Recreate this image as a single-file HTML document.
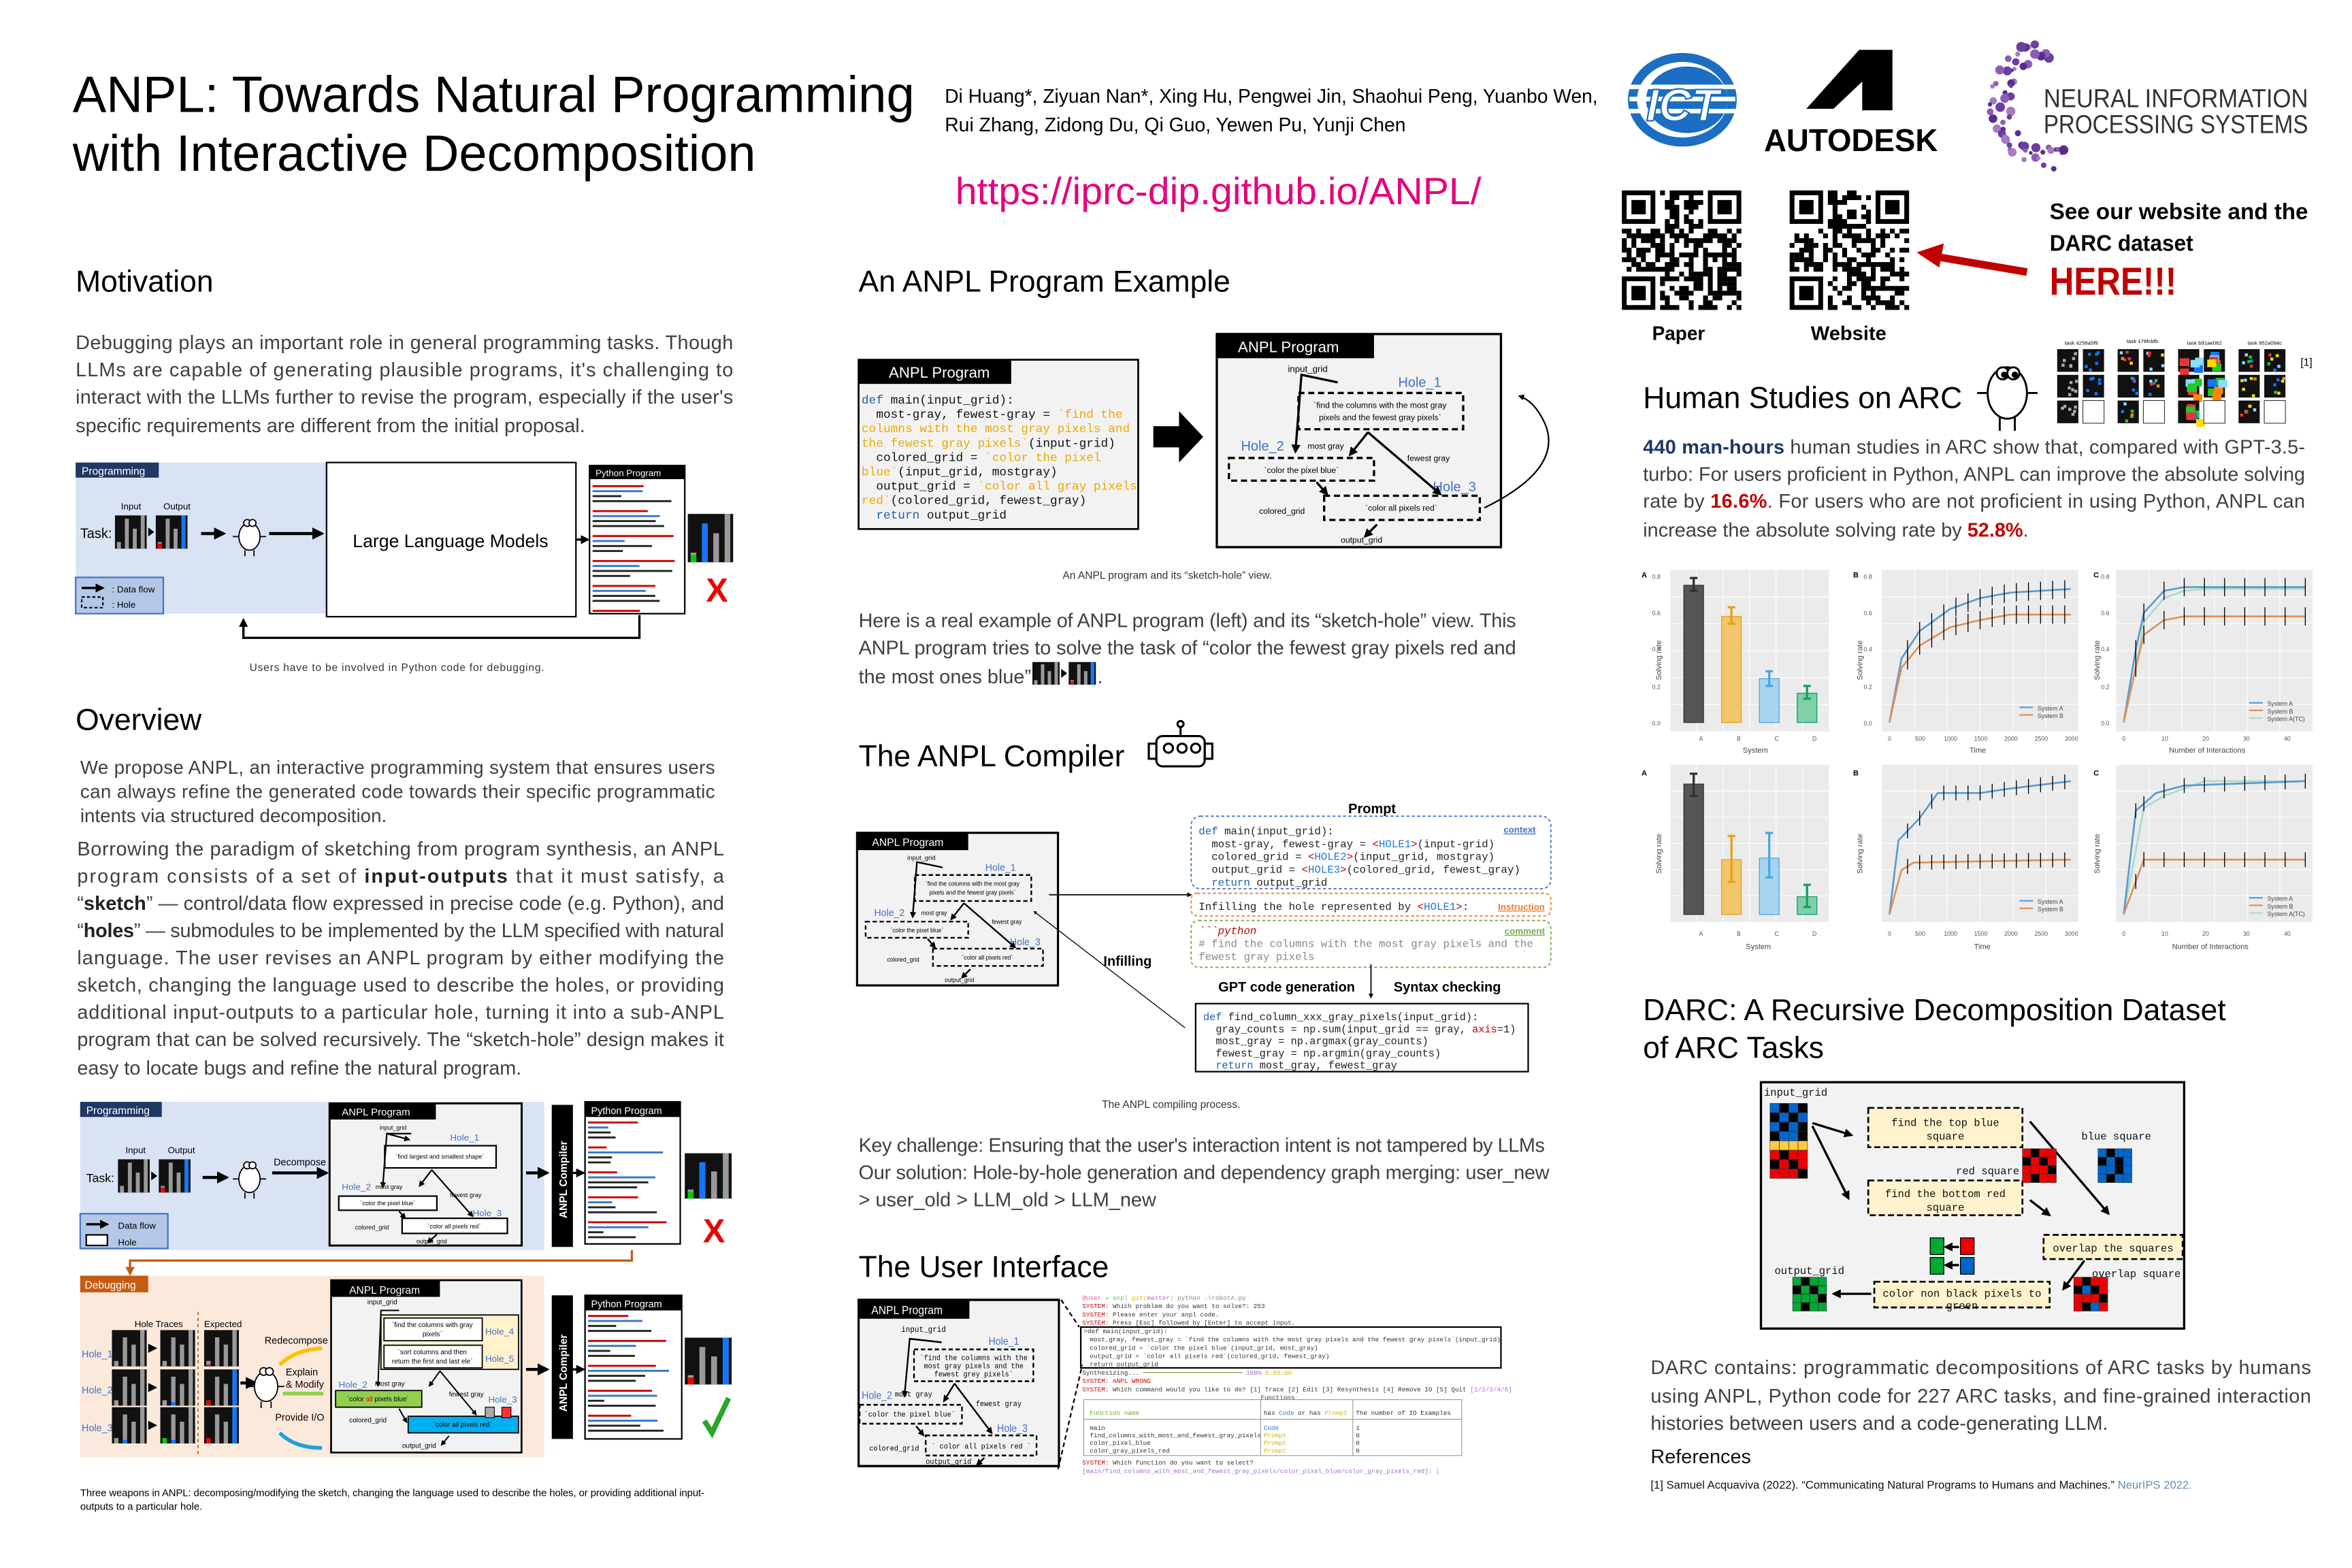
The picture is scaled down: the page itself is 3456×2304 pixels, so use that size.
<!DOCTYPE html>
<html><head><meta charset="utf-8">
<style>
html,body{margin:0;padding:0;background:#fff;}
svg{display:block}
.s{font-family:"Liberation Sans",Arial,sans-serif}
.m{font-family:"Liberation Mono","DejaVu Sans Mono",monospace}
.b{fill:#404040}
.h{fill:#000;font-size:20px}
.bl{fill:#4472c4}
</style></head><body>
<svg id="S" xmlns="http://www.w3.org/2000/svg" width="3456" height="2304" viewBox="0 0 1556 1037.4" class="s">
<defs>
<marker id="ah" viewBox="0 0 10 10" refX="8" refY="5" markerWidth="4" markerHeight="4" orient="auto-start-reverse"><path d="M0,0 L10,5 L0,10 z" fill="#000"/></marker>
<marker id="aho" viewBox="0 0 10 10" refX="8" refY="5" markerWidth="4" markerHeight="4" orient="auto"><path d="M0,0 L10,5 L0,10 z" fill="#c55a11"/></marker>
</defs>
<rect width="1556" height="1037.4" fill="#fff"/>

<!-- Title -->
<text x="48" y="74" font-size="34" textLength="557" lengthAdjust="spacingAndGlyphs">ANPL: Towards Natural Programming</text>
<text x="48" y="113" font-size="34" textLength="452" lengthAdjust="spacingAndGlyphs">with Interactive Decomposition</text>
<text x="625" y="68" font-size="13" textLength="432" lengthAdjust="spacingAndGlyphs">Di Huang*, Ziyuan Nan*, Xing Hu, Pengwei Jin, Shaohui Peng, Yuanbo Wen,</text>
<text x="625" y="87" font-size="13" textLength="305" lengthAdjust="spacingAndGlyphs">Rui Zhang, Zidong Du, Qi Guo, Yewen Pu, Yunji Chen</text>
<text x="632" y="135" font-size="25" fill="#e5007d" textLength="348" lengthAdjust="spacingAndGlyphs">https://iprc-dip.github.io/ANPL/</text>

<!-- logos -->
<g>
<ellipse cx="1113" cy="66" rx="36" ry="31" fill="#1b6ec2"/>
<ellipse cx="1113" cy="66" rx="30" ry="25" fill="#fff"/>
<ellipse cx="1116" cy="66" rx="27" ry="22" fill="#1b6ec2"/>
<rect x="1078" y="56" width="70" height="3" fill="#fff"/><rect x="1078" y="64" width="70" height="3" fill="#fff"/><rect x="1078" y="72" width="70" height="3" fill="#fff"/>
<text x="1089" y="80" font-size="30" font-weight="bold" font-style="italic" fill="#fff" stroke="#1b6ec2" stroke-width="1">ICT</text>
</g>
<polygon points="1195,72 1230,33 1252,33 1252,73 1232,73 1232,54 1213,72" fill="#000"/>
<text x="1167" y="100" font-size="21" font-weight="bold" textLength="115" lengthAdjust="spacingAndGlyphs">AUTODESK</text>
<g id="neur"></g>
<text x="1352" y="71" font-size="17" fill="#333" textLength="175" lengthAdjust="spacingAndGlyphs">NEURAL INFORMATION</text>
<text x="1352" y="88" font-size="17" fill="#333" textLength="175" lengthAdjust="spacingAndGlyphs">PROCESSING SYSTEMS</text>

<g id="qr1"></g><g id="qr2"></g>
<text x="1093" y="225" font-size="13" font-weight="bold" textLength="35" lengthAdjust="spacingAndGlyphs">Paper</text>
<text x="1198" y="225" font-size="13" font-weight="bold" textLength="50" lengthAdjust="spacingAndGlyphs">Website</text>
<line x1="1341" y1="180" x2="1282" y2="170" stroke="#c00000" stroke-width="5"/>
<polygon points="1268,167 1286,161 1283,177" fill="#c00000"/>
<text x="1356" y="145" font-size="15" font-weight="bold" textLength="171" lengthAdjust="spacingAndGlyphs">See our website and the</text>
<text x="1356" y="166" font-size="15" font-weight="bold" textLength="95" lengthAdjust="spacingAndGlyphs">DARC dataset</text>
<text x="1356" y="195" font-size="26" font-weight="bold" fill="#c00000" textLength="84" lengthAdjust="spacingAndGlyphs">HERE!!!</text>

<!-- Motivation -->
<text x="50" y="193" class="h">Motivation</text>
<g class="b" font-size="13">
<text x="50" y="231" textLength="435" lengthAdjust="spacing">Debugging plays an important role in general programming tasks. Though</text>
<text x="50" y="249" textLength="435" lengthAdjust="spacing">LLMs are capable of generating plausible programs, it's challenging to</text>
<text x="50" y="267" textLength="435" lengthAdjust="spacing">interact with the LLMs further to revise the program, especially if the user's</text>
<text x="50" y="286">specific requirements are different from the initial proposal.</text>
</g>
<!-- motivation diagram -->
<rect x="50" y="306" width="166" height="100" fill="#dae3f3"/>
<rect x="50" y="306" width="55" height="10" fill="#1f3864"/>
<text x="54" y="314" font-size="7" fill="#fff">Programming</text>
<text x="80" y="337" font-size="6">Input</text><text x="108" y="337" font-size="6">Output</text>
<text x="53" y="356" font-size="9">Task:</text>
<g id="mt1"></g>
<line x1="133" y1="353" x2="148" y2="353" stroke="#000" stroke-width="2" marker-end="url(#ah)"/>
<g id="duck1" transform="translate(165,352)"></g>
<line x1="178" y1="353" x2="213" y2="353" stroke="#000" stroke-width="2" marker-end="url(#ah)"/>
<rect x="50" y="382" width="58" height="24" fill="#b4c7e7" stroke="#4472c4" stroke-width="1"/>
<line x1="54" y1="389" x2="68" y2="389" stroke="#000" stroke-width="1.5" marker-end="url(#ah)"/><text x="74" y="392" font-size="6">: Data flow</text>
<rect x="54" y="395" width="14" height="7" fill="none" stroke="#000" stroke-dasharray="2,1.5"/><text x="74" y="402" font-size="6">: Hole</text>
<rect x="216" y="306" width="165" height="102" fill="#fff" stroke="#000" stroke-width="1"/>
<text x="298" y="362" font-size="12" text-anchor="middle">Large Language Models</text>
<line x1="381" y1="357" x2="389" y2="357" stroke="#000" stroke-width="1.5" marker-end="url(#ah)"/>
<g transform="translate(390,308)" id="py1">
<rect width="63" height="98" fill="#fff" stroke="#000"/><rect width="63" height="9" fill="#000"/>
<text x="4" y="7" font-size="6" fill="#fff">Python Program</text>
</g>
<g id="mo1"></g>
<text x="467" y="398" font-size="22" fill="#e00" font-weight="bold">X</text>
<polyline points="423,407 423,422 161,422 161,410" fill="none" stroke="#000" stroke-width="1.5" marker-end="url(#ah)"/>
<text x="165" y="444" font-size="7" fill="#333" textLength="195" lengthAdjust="spacing">Users have to be involved in Python code for debugging.</text>

<!-- Overview -->
<text x="50" y="483" class="h">Overview</text>
<g class="b" font-size="12.5">
<text x="53" y="512" textLength="420" lengthAdjust="spacing">We propose ANPL, an interactive programming system that ensures users</text>
<text x="53" y="528" textLength="420" lengthAdjust="spacing">can always refine the generated code towards their specific programmatic</text>
<text x="53" y="544">intents via structured decomposition.</text>
</g>
<g class="b" font-size="13">
<text x="51" y="566" textLength="428" lengthAdjust="spacing">Borrowing the paradigm of sketching from program synthesis, an ANPL</text>
<text x="51" y="584" textLength="428" lengthAdjust="spacing">program consists of a set of <tspan font-weight="bold" fill="#222">input-outputs</tspan> that it must satisfy, a</text>
<text x="51" y="602" textLength="428" lengthAdjust="spacing">“<tspan font-weight="bold" fill="#222">sketch</tspan>” — control/data flow expressed in precise code (e.g. Python), and</text>
<text x="51" y="620" textLength="428" lengthAdjust="spacing">“<tspan font-weight="bold" fill="#222">holes</tspan>” — submodules to be implemented by the LLM specified with natural</text>
<text x="51" y="638" textLength="428" lengthAdjust="spacing">language. The user revises an ANPL program by either modifying the</text>
<text x="51" y="656" textLength="428" lengthAdjust="spacing">sketch, changing the language used to describe the holes, or providing</text>
<text x="51" y="674" textLength="428" lengthAdjust="spacing">additional input-outputs to a particular hole, turning it into a sub-ANPL</text>
<text x="51" y="692" textLength="428" lengthAdjust="spacing">program that can be solved recursively. The “sketch-hole” design makes it</text>
<text x="51" y="711">easy to locate bugs and refine the natural program.</text>
</g>

<!-- overview diagram: programming -->
<rect x="53" y="729" width="307" height="98" fill="#dae3f3"/>
<rect x="53" y="729" width="54" height="10" fill="#1f3864"/><text x="57" y="737" font-size="7" fill="#fff">Programming</text>
<text x="83" y="763" font-size="6">Input</text><text x="111" y="763" font-size="6">Output</text>
<text x="57" y="782" font-size="8">Task:</text>
<g id="mt2"></g>
<line x1="134" y1="779" x2="150" y2="779" stroke="#000" stroke-width="2" marker-end="url(#ah)"/>
<g id="duck2" transform="translate(165,777)"></g>
<text x="181" y="771" font-size="6.5">Decompose</text>
<line x1="180" y1="776" x2="216" y2="776" stroke="#000" stroke-width="2" marker-end="url(#ah)"/>
<rect x="53" y="803" width="58" height="23" fill="#b4c7e7" stroke="#4472c4"/>
<line x1="57" y1="810" x2="71" y2="810" stroke="#000" stroke-width="1.5" marker-end="url(#ah)"/><text x="78" y="813" font-size="6">Data flow</text>
<rect x="57" y="817" width="14" height="7" fill="#fff" stroke="#000"/><text x="78" y="824" font-size="6">Hole</text>

<g transform="translate(218,730) scale(0.676,0.667)">
<rect width="188" height="141" fill="#f2f2f2" stroke="#000" stroke-width="2"/>
<rect width="104" height="16" fill="#000"/><text x="12" y="12" font-size="10" fill="#fff">ANPL Program</text>
<text x="49" y="26" font-size="6">input_grid</text>
<text x="118" y="37" font-size="9" class="bl">Hole_1</text>
<rect x="54" y="42" width="109" height="22" fill="#fff" stroke="#000" stroke-width="1.5"/>
<text x="108" y="55" font-size="6" text-anchor="middle">`find largest and smallest shape`</text>
<text x="12" y="86" font-size="9" class="bl">Hole_2</text><text x="45" y="85" font-size="6">most gray</text>
<text x="118" y="93" font-size="6">fewest gray</text>
<rect x="9" y="92" width="96" height="14" fill="#fff" stroke="#000" stroke-width="1.5"/><text x="57" y="101" font-size="6" text-anchor="middle">`color the pixel blue`</text>
<text x="140" y="112" font-size="9" class="bl">Hole_3</text>
<rect x="71" y="114" width="103" height="15" fill="#fff" stroke="#000" stroke-width="1.5"/><text x="122" y="124" font-size="6" text-anchor="middle">`color all pixels red`</text>
<text x="25" y="125" font-size="6">colored_grid</text><text x="85" y="139" font-size="6">output_grid</text>
<polyline points="80,30 56,30 52,83" fill="none" stroke="#000" stroke-width="1.5" marker-end="url(#ah)"/>
<line x1="56" y1="30" x2="78" y2="36" stroke="#000" stroke-width="1.5" marker-end="url(#ah)"/>
<line x1="100" y1="66" x2="88" y2="82" stroke="#000" stroke-width="1.5" marker-end="url(#ah)"/>
<line x1="100" y1="66" x2="140" y2="112" stroke="#000" stroke-width="1.5" marker-end="url(#ah)"/>
<line x1="68" y1="107" x2="74" y2="114" stroke="#000" stroke-width="1.5" marker-end="url(#ah)"/>
<line x1="105" y1="130" x2="96" y2="138" stroke="#000" stroke-width="1.5" marker-end="url(#ah)"/>
</g>
<line x1="348" y1="776" x2="362" y2="776" stroke="#000" stroke-width="2" marker-end="url(#ah)"/>
<rect x="365" y="731" width="14" height="94" fill="#000"/>
<text transform="translate(375,806) rotate(-90)" font-size="7" fill="#fff" font-weight="bold">ANPL Compiler</text>
<line x1="379" y1="776" x2="386" y2="776" stroke="#000" stroke-width="1.5" marker-end="url(#ah)"/>
<g transform="translate(387,729)" id="py2">
<rect width="63" height="94" fill="#fff" stroke="#000"/><rect width="63" height="10" fill="#000"/>
<text x="4" y="8" font-size="6.5" fill="#fff">Python Program</text>
</g>
<g id="mo2"></g>
<text x="465" y="822" font-size="22" fill="#e00" font-weight="bold">X</text>
<polyline points="418,827 418,834 86,834 86,843" fill="none" stroke="#c55a11" stroke-width="1.5" marker-end="url(#aho)"/>

<!-- debugging -->
<rect x="53" y="844" width="307" height="120" fill="#fbe9dc"/>
<rect x="53" y="844" width="45" height="11" fill="#c55a11"/><text x="56" y="852.5" font-size="7" fill="#fff">Debugging</text>
<text x="89" y="878" font-size="6">Hole Traces</text><text x="135" y="878" font-size="6">Expected</text>
<line x1="131" y1="868" x2="131" y2="962" stroke="#c55a11" stroke-dasharray="2,2" stroke-width="0.8"/>
<text x="54" y="898" font-size="6.5" class="bl">Hole_1</text><text x="54" y="922" font-size="6.5" class="bl">Hole_2</text><text x="54" y="947" font-size="6.5" class="bl">Hole_3</text>
<g id="dg"></g>
<g id="duck3" transform="translate(176,914)"></g>
<path d="M185,903 Q195,893 213,892" fill="none" stroke="#ffc000" stroke-width="2.5"/>
<line x1="187" y1="922" x2="214" y2="922" stroke="#92d050" stroke-width="2.5"/>
<path d="M185,948 Q195,958 213,958" fill="none" stroke="#1ca0e0" stroke-width="2.5"/>
<text x="175" y="889" font-size="6.5">Redecompose</text>
<text x="189" y="910" font-size="6.5">Explain</text><text x="189" y="918" font-size="6.5">&amp; Modify</text>
<text x="182" y="940" font-size="6.5">Provide I/O</text>
<g transform="translate(219,847)">
<rect width="126" height="114" fill="#f2f2f2" stroke="#000" stroke-width="1.2"/>
<rect width="72" height="11" fill="#000"/><text x="12" y="9" font-size="7" fill="#fff">ANPL Program</text>
<text x="24" y="16" font-size="4.5">input_grid</text>
<text x="66" y="27" font-size="6" class="bl">Hole_1</text>
<rect x="33" y="23" width="91" height="36" fill="#fff2cc" stroke="#000" stroke-width="0.8"/>
<rect x="35" y="25" width="65" height="15" fill="#fff" stroke="#000" stroke-width="0.8"/><text x="67" y="31" font-size="4.5" text-anchor="middle">`find the columns with gray</text><text x="67" y="37" font-size="4.5" text-anchor="middle">pixels`</text>
<rect x="35" y="43" width="65" height="15" fill="#fff" stroke="#000" stroke-width="0.8"/><text x="67" y="49" font-size="4.5" text-anchor="middle">`sort columns and then</text><text x="67" y="55" font-size="4.5" text-anchor="middle">return the first and last ele`</text>
<text x="102" y="36" font-size="6" class="bl">Hole_4</text><text x="102" y="54" font-size="6" class="bl">Hole_5</text>
<text x="5" y="71" font-size="6" class="bl">Hole_2</text><text x="29" y="70" font-size="4.5">most gray</text>
<text x="78" y="77" font-size="4.5">fewest gray</text><text x="104" y="81" font-size="6" class="bl">Hole_3</text>
<rect x="3" y="73" width="57" height="11" fill="#92d050" stroke="#000" stroke-width="0.8"/><text x="31" y="80" font-size="4.5" text-anchor="middle">`color <tspan fill="#e00">all</tspan> pixels blue`</text>
<rect x="51" y="90" width="73" height="11" fill="#00b0f0" stroke="#000" stroke-width="0.8"/><text x="87" y="97" font-size="4.5" text-anchor="middle">`color all pixels red`</text>
<rect x="102" y="84" width="6" height="7" fill="#aaa" stroke="#000" stroke-width="0.5"/><rect x="113" y="84" width="6" height="7" fill="#f33" stroke="#000" stroke-width="0.5"/>
<text x="12" y="94" font-size="4.5">colored_grid</text><text x="47" y="111" font-size="4.5">output_grid</text>
<polyline points="45,20 33,20 31,70" fill="none" stroke="#000" stroke-width="0.9" marker-end="url(#ah)"/>
<line x1="72" y1="60" x2="65" y2="70" stroke="#000" stroke-width="0.9" marker-end="url(#ah)"/>
<line x1="72" y1="60" x2="96" y2="89" stroke="#000" stroke-width="0.9" marker-end="url(#ah)"/>
<line x1="45" y1="85" x2="50" y2="94" stroke="#000" stroke-width="0.9" marker-end="url(#ah)"/>
<line x1="78" y1="103" x2="73" y2="109" stroke="#000" stroke-width="0.9" marker-end="url(#ah)"/>
</g>
<line x1="348" y1="906" x2="362" y2="906" stroke="#000" stroke-width="2" marker-end="url(#ah)"/>
<rect x="365" y="857" width="14" height="95" fill="#000"/>
<text transform="translate(375,934) rotate(-90)" font-size="7" fill="#fff" font-weight="bold">ANPL Compiler</text>
<line x1="379" y1="906" x2="386" y2="906" stroke="#000" stroke-width="1.5" marker-end="url(#ah)"/>
<g transform="translate(387,857)" id="py3">
<rect width="64" height="95" fill="#fff" stroke="#000"/><rect width="64" height="10" fill="#000"/>
<text x="4" y="8" font-size="6.5" fill="#fff">Python Program</text>
</g>
<g id="mo3"></g>
<path d="M466,940 L471,948 L482,925" fill="none" stroke="#2aa52a" stroke-width="3.5"/>
<text x="53" y="990" font-size="6.7" textLength="413" lengthAdjust="spacing">Three weapons in ANPL: decomposing/modifying the sketch, changing the language used to describe the holes, or providing additional input-</text>
<text x="53" y="999" font-size="6.7">outputs to a particular hole.</text>

<!-- Program example -->
<text x="568" y="193" class="h">An ANPL Program Example</text>
<rect x="568" y="238" width="185" height="112" fill="#f2f2f2" stroke="#000" stroke-width="1.2"/>
<rect x="568" y="238" width="101" height="16" fill="#000"/>
<text x="588" y="250" font-size="10" fill="#fff">ANPL Program</text>
<g class="m" font-size="8" fill="#111">
<text x="570" y="267"><tspan fill="#1f5fb0">def</tspan> main(input_grid):</text>
<text x="570" y="276.5">&#160;&#160;most-gray, fewest-gray = <tspan fill="#f0a800">`find the</tspan></text>
<text x="570" y="286" fill="#f0a800">columns with the most gray pixels and</text>
<text x="570" y="295.5"><tspan fill="#f0a800">the fewest gray pixels`</tspan>(input-grid)</text>
<text x="570" y="305">&#160;&#160;colored_grid = <tspan fill="#f0a800">`color the pixel</tspan></text>
<text x="570" y="314.5"><tspan fill="#f0a800">blue`</tspan>(input_grid, mostgray)</text>
<text x="570" y="324">&#160;&#160;output_grid = <tspan fill="#f0a800">`color all gray pixels</tspan></text>
<text x="570" y="333.5"><tspan fill="#f0a800">red`</tspan>(colored_grid, fewest_gray)</text>
<text x="570" y="343">&#160;&#160;<tspan fill="#1f5fb0">return</tspan> output_grid</text>
</g>
<polygon points="763,282 780,282 780,272 796,289 780,306 780,296 763,296" fill="#000"/>
<g transform="translate(805,221)">
<rect width="188" height="141" fill="#f2f2f2" stroke="#000" stroke-width="1.5"/>
<rect width="104" height="16" fill="#000"/><text x="14" y="12" font-size="10" fill="#fff">ANPL Program</text>
<text x="47" y="25" font-size="6">input_grid</text>
<text x="120" y="35" font-size="9" class="bl">Hole_1</text>
<rect x="54" y="39" width="109" height="24" fill="none" stroke="#000" stroke-width="1.5" stroke-dasharray="4,2.5"/>
<text x="108" y="49" font-size="5.5" text-anchor="middle">`find the columns with the most gray</text>
<text x="108" y="57" font-size="5.5" text-anchor="middle">pixels and the fewest gray pixels`</text>
<text x="16" y="77" font-size="9" class="bl">Hole_2</text><text x="60" y="76" font-size="5.5">most gray</text>
<text x="126" y="84" font-size="5.5">fewest gray</text>
<rect x="8" y="82" width="96" height="15" fill="none" stroke="#000" stroke-width="1.5" stroke-dasharray="4,2.5"/>
<text x="56" y="92" font-size="5.5" text-anchor="middle">`color the pixel blue`</text>
<text x="143" y="104" font-size="9" class="bl">Hole_3</text>
<rect x="71" y="107" width="103" height="16" fill="none" stroke="#000" stroke-width="1.5" stroke-dasharray="4,2.5"/>
<text x="122" y="117" font-size="5.5" text-anchor="middle">`color all pixels red`</text>
<text x="28" y="119" font-size="5.5">colored_grid</text><text x="82" y="138" font-size="5.5">output_grid</text>
<polyline points="80,32 56,27 52,78" fill="none" stroke="#000" stroke-width="1.5" marker-end="url(#ah)"/>
<line x1="100" y1="65" x2="88" y2="80" stroke="#000" stroke-width="1.5" marker-end="url(#ah)"/>
<line x1="100" y1="65" x2="148" y2="106" stroke="#000" stroke-width="1.5" marker-end="url(#ah)"/>
<line x1="66" y1="98" x2="73" y2="106" stroke="#000" stroke-width="1.5" marker-end="url(#ah)"/>
<line x1="106" y1="126" x2="98" y2="134" stroke="#000" stroke-width="1.5" marker-end="url(#ah)"/>
</g>
<path d="M982,336 Q1035,310 1022,280 Q1015,265 1005,262" fill="none" stroke="#000" stroke-width="1" marker-end="url(#ah)"/>
<text x="703" y="383" font-size="7" fill="#333">An ANPL program and its “sketch-hole” view.</text>
<g class="b" font-size="13">
<text x="568" y="415" textLength="435" lengthAdjust="spacing">Here is a real example of ANPL program (left) and its “sketch-hole” view. This</text>
<text x="568" y="433" textLength="435" lengthAdjust="spacing">ANPL program tries to solve the task of “color the fewest gray pixels red and</text>
<text x="568" y="452">the most ones blue” </text>
<text x="726" y="452">.</text>
</g>
<g id="mt3"></g>

<!-- Compiler -->
<text x="568" y="507" class="h">The ANPL Compiler</text>
<g fill="none" stroke="#000" stroke-width="1.4">
<rect x="765" y="487" width="32" height="20" rx="4"/>
<rect x="760" y="492" width="5" height="10"/><rect x="797" y="492" width="5" height="10"/>
<circle cx="773" cy="495" r="3"/><circle cx="782" cy="495" r="3"/><circle cx="791" cy="495" r="3"/>
<line x1="781" y1="487" x2="781" y2="481"/><circle cx="781" cy="479" r="2"/>
</g>
<g transform="translate(567,551) scale(0.707,0.716)">
<rect width="188" height="141" fill="#f2f2f2" stroke="#000" stroke-width="2"/>
<rect width="104" height="16" fill="#000"/><text x="14" y="12" font-size="10" fill="#fff">ANPL Program</text>
<text x="47" y="25" font-size="6">input_grid</text>
<text x="120" y="35" font-size="9" class="bl">Hole_1</text>
<rect x="54" y="39" width="109" height="24" fill="none" stroke="#000" stroke-width="1.5" stroke-dasharray="4,2.5"/>
<text x="108" y="49" font-size="5.5" text-anchor="middle">`find the columns with the most gray</text>
<text x="108" y="57" font-size="5.5" text-anchor="middle">pixels and the fewest gray pixels`</text>
<text x="16" y="77" font-size="9" class="bl">Hole_2</text><text x="60" y="76" font-size="5.5">most gray</text>
<text x="126" y="84" font-size="5.5">fewest gray</text>
<rect x="8" y="82" width="96" height="15" fill="none" stroke="#000" stroke-width="1.5" stroke-dasharray="4,2.5"/>
<text x="56" y="92" font-size="5.5" text-anchor="middle">`color the pixel blue`</text>
<text x="143" y="104" font-size="9" class="bl">Hole_3</text>
<rect x="71" y="107" width="103" height="16" fill="none" stroke="#000" stroke-width="1.5" stroke-dasharray="4,2.5"/>
<text x="122" y="117" font-size="5.5" text-anchor="middle">`color all pixels red`</text>
<text x="28" y="119" font-size="5.5">colored_grid</text><text x="82" y="138" font-size="5.5">output_grid</text>
<polyline points="80,32 56,27 52,78" fill="none" stroke="#000" stroke-width="1.5" marker-end="url(#ah)"/>
<line x1="100" y1="65" x2="88" y2="80" stroke="#000" stroke-width="1.5" marker-end="url(#ah)"/>
<line x1="100" y1="65" x2="148" y2="106" stroke="#000" stroke-width="1.5" marker-end="url(#ah)"/>
<line x1="66" y1="98" x2="73" y2="106" stroke="#000" stroke-width="1.5" marker-end="url(#ah)"/>
<line x1="106" y1="126" x2="98" y2="134" stroke="#000" stroke-width="1.5" marker-end="url(#ah)"/>
</g>
<line x1="694" y1="592" x2="788" y2="592" stroke="#000" stroke-width="0.8" marker-end="url(#ah)"/>
<line x1="784" y1="680" x2="684" y2="603" stroke="#000" stroke-width="0.6" marker-end="url(#ah)"/>
<text x="730" y="639" font-size="9" font-weight="bold">Infilling</text>
<text x="892" y="538" font-size="9" font-weight="bold">Prompt</text>
<rect x="788" y="540" width="238" height="48" rx="6" fill="none" stroke="#4472c4" stroke-width="0.8" stroke-dasharray="2,1.5"/>
<rect x="788" y="591" width="238" height="15" rx="4" fill="none" stroke="#ed7d31" stroke-width="0.8" stroke-dasharray="2,1.5"/>
<rect x="788" y="609" width="238" height="31" rx="5" fill="none" stroke="#70ad47" stroke-width="0.8" stroke-dasharray="2,1.5"/>
<text x="1016" y="551" font-size="6" font-weight="bold" fill="#4472c4" text-anchor="end" text-decoration="underline">context</text>
<text x="1022" y="602" font-size="6" font-weight="bold" fill="#ed7d31" text-anchor="end" text-decoration="underline">Instruction</text>
<text x="1022" y="618" font-size="6" font-weight="bold" fill="#70ad47" text-anchor="end" text-decoration="underline">comment</text>
<g class="m" font-size="7.1" fill="#222">
<text x="793" y="552"><tspan fill="#1f5fb0">def</tspan> main(input_grid):</text>
<text x="793" y="560.5">&#160;&#160;most-gray, fewest-gray = <tspan fill="#c00000">&lt;</tspan><tspan fill="#1f7ad0">HOLE1</tspan><tspan fill="#c00000">&gt;</tspan>(input-grid)</text>
<text x="793" y="569">&#160;&#160;colored_grid = <tspan fill="#c00000">&lt;</tspan><tspan fill="#1f7ad0">HOLE2</tspan><tspan fill="#c00000">&gt;</tspan>(input_grid, mostgray)</text>
<text x="793" y="577.5">&#160;&#160;output_grid = <tspan fill="#c00000">&lt;</tspan><tspan fill="#1f7ad0">HOLE3</tspan><tspan fill="#c00000">&gt;</tspan>(colored_grid, fewest_gray)</text>
<text x="793" y="586">&#160;&#160;<tspan fill="#1f5fb0">return</tspan> output_grid</text>
<text x="793" y="602">Infilling the hole represented by <tspan fill="#c00000">&lt;</tspan><tspan fill="#1f7ad0">HOLE1</tspan><tspan fill="#c00000">&gt;</tspan>:</text>
<text x="793" y="618" fill="#c00000" font-style="italic">&#96;&#96;&#96;python</text>
<text x="793" y="626.5" fill="#888"># find the columns with the most gray pixels and the</text>
<text x="793" y="635" fill="#888">fewest gray pixels</text>
</g>
<line x1="907" y1="638" x2="907" y2="660" stroke="#000" stroke-width="0.8" marker-end="url(#ah)"/>
<text x="806" y="656" font-size="9" font-weight="bold">GPT code generation</text>
<text x="922" y="656" font-size="9" font-weight="bold">Syntax checking</text>
<rect x="791" y="664" width="220" height="45" fill="#fff" stroke="#000" stroke-width="1"/>
<g class="m" font-size="6.9" fill="#222">
<text x="796" y="675"><tspan fill="#1f5fb0">def</tspan> find_column_xxx_gray_pixels(input_grid):</text>
<text x="796" y="683">&#160;&#160;gray_counts = np.sum(input_grid == gray, <tspan fill="#c00000">axis</tspan>=1)</text>
<text x="796" y="691">&#160;&#160;most_gray = np.argmax(gray_counts)</text>
<text x="796" y="699">&#160;&#160;fewest_gray = np.argmin(gray_counts)</text>
<text x="796" y="707">&#160;&#160;<tspan fill="#1f5fb0">return</tspan> most_gray, fewest_gray</text>
</g>
<text x="729" y="733" font-size="7" fill="#333">The ANPL compiling process.</text>
<g class="b" font-size="13">
<text x="568" y="762" textLength="454" lengthAdjust="spacing">Key challenge: Ensuring that the user's interaction intent is not tampered by LLMs</text>
<text x="568" y="780" textLength="457" lengthAdjust="spacing">Our solution: Hole-by-hole generation and dependency graph merging: user_new</text>
<text x="568" y="798">&gt; user_old &gt; LLM_old &gt; LLM_new</text>
</g>

<!-- UI -->
<text x="568" y="845" class="h">The User Interface</text>
<g transform="translate(568,860) scale(0.705,0.78)">
<rect width="188" height="141" fill="#f2f2f2" stroke="#000" stroke-width="2"/>
<rect width="104" height="16" fill="#000"/><text x="12" y="12" font-size="10" fill="#fff">ANPL Program</text>
<text x="40" y="27" font-size="7" class="m">input_grid</text>
<text x="122" y="38" font-size="9" class="bl">Hole_1</text>
<rect x="52" y="42" width="112" height="27" fill="none" stroke="#000" stroke-width="1.5" stroke-dasharray="4,2.5"/>
<text x="108" y="51" font-size="6.5" text-anchor="middle" class="m">`find the columns with the</text>
<text x="108" y="58" font-size="6.5" text-anchor="middle" class="m">most gray pixels and the</text>
<text x="108" y="65" font-size="6.5" text-anchor="middle" class="m">fewest grey pixels`</text>
<text x="3" y="84" font-size="9" class="bl">Hole_2</text><text x="34" y="82" font-size="6.5" class="m">most gray</text>
<text x="110" y="90" font-size="6.5" class="m">fewest gray</text>
<rect x="1" y="89" width="96" height="16" fill="none" stroke="#000" stroke-width="1.5" stroke-dasharray="4,2.5"/>
<text x="48" y="99" font-size="6.5" text-anchor="middle" class="m">`color the pixel blue`</text>
<text x="130" y="112" font-size="9" class="bl">Hole_3</text>
<rect x="63" y="115" width="104" height="17" fill="none" stroke="#000" stroke-width="1.5" stroke-dasharray="4,2.5"/>
<text x="115" y="126" font-size="6.5" text-anchor="middle" class="m">` color all pixels red `</text>
<text x="10" y="128" font-size="6.5" class="m">colored_grid</text><text x="63" y="139" font-size="6.5" class="m">output_grid</text>
<polyline points="78,36 48,33 43,82" fill="none" stroke="#000" stroke-width="1.5" marker-end="url(#ah)"/>
<line x1="90" y1="71" x2="80" y2="86" stroke="#000" stroke-width="1.5" marker-end="url(#ah)"/>
<line x1="90" y1="71" x2="125" y2="113" stroke="#000" stroke-width="1.5" marker-end="url(#ah)"/>
<line x1="54" y1="107" x2="61" y2="115" stroke="#000" stroke-width="1.5" marker-end="url(#ah)"/>
<line x1="118" y1="134" x2="111" y2="140" stroke="#000" stroke-width="1.5" marker-end="url(#ah)"/>
</g>
<line x1="702" y1="860" x2="714" y2="878" stroke="#000" stroke-dasharray="3,2"/>
<line x1="700" y1="972" x2="716" y2="903" stroke="#000" stroke-dasharray="3,2"/>
<g class="m" font-size="4.2" fill="#333">
<text x="716" y="860"><tspan fill="#e06090">@User</tspan> <tspan fill="#6c6">» anpl</tspan> <tspan fill="#db0">git(</tspan><tspan fill="#c6c">master</tspan><tspan fill="#db0">)</tspan> <tspan fill="#888">python .\robotA.py</tspan></text>
<text x="716" y="865.5"><tspan fill="#c00">SYSTEM:</tspan> Which problem do you want to solve?: 253</text>
<text x="716" y="871"><tspan fill="#c00">SYSTEM:</tspan> Please enter your anpl code.</text>
<text x="716" y="876.5"><tspan fill="#c00">SYSTEM:</tspan> Press [Esc] followed by [Enter] to accept input.</text>
<text x="717" y="882">&gt;def main(input_grid):</text>
<text x="721" y="887.5">most_gray, fewest_gray = `find the columns with the most gray pixels and the fewest gray pixels`(input_grid)</text>
<text x="721" y="893">colored_grid = `color the pixel blue`(input_grid, most_gray)</text>
<text x="721" y="898.5">output_grid = `color all pixels red`(colored_grid, fewest_gray)</text>
<text x="721" y="904">return output_grid</text>
<text x="716" y="909.5">Synthesizing... <tspan fill="#a0b060">━━━━━━━━━━━━━━━━━━━━━━━━━━</tspan> <tspan fill="#a6c">100%</tspan> <tspan fill="#db0">0:00:00</tspan></text>
<text x="716" y="915"><tspan fill="#c00">SYSTEM: ANPL WRONG</tspan></text>
<text x="716" y="920.5"><tspan fill="#c00">SYSTEM:</tspan> Which command would you like to do? [1] Trace [2] Edit [3] Resynthesis [4] Remove IO [5] Quit <tspan fill="#a6c">[1/2/3/4/5]</tspan></text>
<text x="834" y="926">Functions</text>
<text x="721" y="936"><tspan fill="#6a3">Function name</tspan></text>
<text x="836" y="936">has <tspan fill="#37c">Code</tspan> or has <tspan fill="#cb0">Prompt</tspan></text>
<text x="897" y="936">The number of IO Examples</text>
<text x="721" y="946">main</text><text x="721" y="951">find_columns_with_most_and_fewest_gray_pixels</text><text x="721" y="956">color_pixel_blue</text><text x="721" y="961">color_gray_pixels_red</text>
<text x="836" y="946" fill="#37c">Code</text><text x="836" y="951" fill="#cb0">Prompt</text><text x="836" y="956" fill="#cb0">Prompt</text><text x="836" y="961" fill="#cb0">Prompt</text>
<text x="897" y="946">1</text><text x="897" y="951">0</text><text x="897" y="956">0</text><text x="897" y="961">0</text>
<text x="716" y="969"><tspan fill="#c00">SYSTEM:</tspan> Which function do you want to select?</text>
<text x="716" y="974.5" fill="#a6c">[main/find_columns_with_most_and_fewest_gray_pixels/color_pixel_blue/color_gray_pixels_red]: |</text>
</g>
<rect x="715" y="878" width="278" height="27" fill="none" stroke="#000" stroke-width="1"/>
<rect x="717" y="926" width="250" height="37" fill="none" stroke="#999" stroke-width="0.5"/>
<line x1="717" y1="939" x2="967" y2="939" stroke="#999" stroke-width="0.5"/>
<line x1="834" y1="926" x2="834" y2="963" stroke="#999" stroke-width="0.5"/>
<line x1="895" y1="926" x2="895" y2="963" stroke="#999" stroke-width="0.5"/>

<!-- Human studies -->
<text x="1087" y="270" class="h">Human Studies on ARC</text>
<g transform="translate(1328,255)" fill="#fff" stroke="#000" stroke-width="1.3">
<ellipse cx="0" cy="5" rx="13" ry="17"/>
<line x1="-13" y1="5" x2="-20" y2="5"/><line x1="13" y1="5" x2="20" y2="5"/>
<line x1="-5" y1="21" x2="-5" y2="30"/><line x1="5" y1="21" x2="5" y2="30"/>
<circle cx="-3" cy="-8" r="4"/><circle cx="4" cy="-8" r="4"/>
<circle cx="-2" cy="-7" r="1.5" fill="#000"/><circle cx="5" cy="-7" r="1.5" fill="#000"/>
</g>
<g id="arc"></g>
<text x="1366" y="228" font-size="3.5">task 4258a5f9</text><text x="1407" y="227" font-size="3.5">task 178fcbfb</text><text x="1447" y="228" font-size="3.5">task b91ae062</text><text x="1487" y="228" font-size="3.5">task 952a094c</text>
<text x="1522" y="242" font-size="7">[1]</text>
<g class="b" font-size="13">
<text x="1087" y="300" textLength="438" lengthAdjust="spacing"><tspan font-weight="bold" fill="#1f3864">440 man-hours</tspan> human studies in ARC show that, compared with GPT-3.5-</text>
<text x="1087" y="318" textLength="438" lengthAdjust="spacing">turbo: For users proficient in Python, ANPL can improve the absolute solving</text>
<text x="1087" y="336" textLength="438" lengthAdjust="spacing">rate by <tspan font-weight="bold" fill="#c00000">16.6%</tspan>. For users who are not proficient in using Python, ANPL can</text>
<text x="1087" y="355">increase the absolute solving rate by <tspan font-weight="bold" fill="#c00000">52.8%</tspan>.</text>
</g>
<g id="charts"></g>
<g font-size="5" fill="#444">
<text x="1086" y="382" font-weight="bold" fill="#000">A</text><text x="1226" y="382" font-weight="bold" fill="#000">B</text><text x="1385" y="382" font-weight="bold" fill="#000">C</text>
<text x="1086" y="513" font-weight="bold" fill="#000">A</text><text x="1226" y="513" font-weight="bold" fill="#000">B</text><text x="1385" y="513" font-weight="bold" fill="#000">C</text>
<text x="1153" y="498">System</text><text x="1303" y="498">Time</text><text x="1435" y="498">Number of Interactions</text>
<text x="1155" y="628">System</text><text x="1306" y="628">Time</text><text x="1437" y="628">Number of Interactions</text>
<text transform="translate(1099,450) rotate(-90)">Solving rate</text><text transform="translate(1232,450) rotate(-90)">Solving rate</text><text transform="translate(1389,450) rotate(-90)">Solving rate</text>
<text transform="translate(1099,578) rotate(-90)">Solving rate</text><text transform="translate(1232,578) rotate(-90)">Solving rate</text><text transform="translate(1389,578) rotate(-90)">Solving rate</text>
<text x="1348" y="470" font-size="4">System A</text><text x="1348" y="475" font-size="4">System B</text>
<text x="1500" y="467" font-size="4">System A</text><text x="1500" y="472" font-size="4">System B</text><text x="1500" y="477" font-size="4">System A(TC)</text>
<text x="1348" y="598" font-size="4">System A</text><text x="1348" y="603" font-size="4">System B</text>
<text x="1500" y="596" font-size="4">System A</text><text x="1500" y="601" font-size="4">System B</text><text x="1500" y="606" font-size="4">System A(TC)</text>
</g>
<g font-size="4" fill="#555">
<text x="1093" y="383">0.8</text><text x="1093" y="407">0.6</text><text x="1093" y="431">0.4</text><text x="1093" y="456">0.2</text><text x="1093" y="480">0.0</text>
<text x="1233" y="383">0.8</text><text x="1233" y="407">0.6</text><text x="1233" y="431">0.4</text><text x="1233" y="456">0.2</text><text x="1233" y="480">0.0</text>
<text x="1390" y="383">0.8</text><text x="1390" y="407">0.6</text><text x="1390" y="431">0.4</text><text x="1390" y="456">0.2</text><text x="1390" y="480">0.0</text>
<text x="1124" y="490">A</text><text x="1149" y="490">B</text><text x="1174" y="490">C</text><text x="1199" y="490">D</text>
<text x="1249" y="490">0</text><text x="1267" y="490">500</text><text x="1286" y="490">1000</text><text x="1306" y="490">1500</text><text x="1326" y="490">2000</text><text x="1346" y="490">2500</text><text x="1366" y="490">3000</text>
<text x="1404" y="490">0</text><text x="1430" y="490">10</text><text x="1457" y="490">20</text><text x="1484" y="490">30</text><text x="1511" y="490">40</text>
<text x="1124" y="619">A</text><text x="1149" y="619">B</text><text x="1174" y="619">C</text><text x="1199" y="619">D</text>
<text x="1249" y="619">0</text><text x="1267" y="619">500</text><text x="1286" y="619">1000</text><text x="1306" y="619">1500</text><text x="1326" y="619">2000</text><text x="1346" y="619">2500</text><text x="1366" y="619">3000</text>
<text x="1404" y="619">0</text><text x="1430" y="619">10</text><text x="1457" y="619">20</text><text x="1484" y="619">30</text><text x="1511" y="619">40</text>
</g>

<!-- DARC -->
<text x="1087" y="675" class="h" font-size="21">DARC: A Recursive Decomposition Dataset</text>
<text x="1087" y="700" class="h" font-size="21">of ARC Tasks</text>
<rect x="1165" y="716" width="280" height="163" fill="#f2f2f2" stroke="#000" stroke-width="1.5"/>
<g class="m" font-size="7" fill="#111">
<text x="1167" y="725">input_grid</text>
<rect x="1236" y="733" width="102" height="26" fill="#fff2cc" stroke="#000" stroke-dasharray="4,2" stroke-width="1.2"/>
<text x="1287" y="745" text-anchor="middle">find the top blue</text><text x="1287" y="754" text-anchor="middle">square</text>
<rect x="1236" y="781" width="102" height="23" fill="#fff2cc" stroke="#000" stroke-dasharray="4,2" stroke-width="1.2"/>
<text x="1287" y="792" text-anchor="middle">find the bottom red</text><text x="1287" y="801" text-anchor="middle">square</text>
<text x="1294" y="777">red square</text><text x="1377" y="754">blue square</text>
<rect x="1352" y="817" width="92" height="16" fill="#fff2cc" stroke="#000" stroke-dasharray="4,2" stroke-width="1.2"/>
<text x="1398" y="828" text-anchor="middle">overlap the squares</text>
<text x="1384" y="845">overlap square</text>
<text x="1174" y="843">output_grid</text>
<rect x="1240" y="848" width="116" height="17" fill="#fff2cc" stroke="#000" stroke-dasharray="4,2" stroke-width="1.2"/>
<text x="1298" y="858" text-anchor="middle">color non black pixels to</text><text x="1298" y="866" text-anchor="middle">green</text>
</g>
<g stroke="#000" stroke-width="1.5" fill="none">
<line x1="1199" y1="743" x2="1225" y2="751" marker-end="url(#ah)"/>
<line x1="1199" y1="745" x2="1223" y2="793" marker-end="url(#ah)"/>
<line x1="1343" y1="794" x2="1356" y2="804" marker-end="url(#ah)"/>
<line x1="1343" y1="742" x2="1395" y2="803" marker-end="url(#ah)"/>
<line x1="1379" y1="834" x2="1365" y2="853" marker-end="url(#ah)"/>
<line x1="1238" y1="856" x2="1213" y2="856" marker-end="url(#ah)"/>
<line x1="1296" y1="825" x2="1287" y2="825" marker-end="url(#ah)"/>
<line x1="1296" y1="837" x2="1287" y2="837" marker-end="url(#ah)"/>
</g>
<rect x="1277" y="819" width="9" height="11" fill="#0a3" stroke="#000" stroke-width="0.6"/><rect x="1297" y="819" width="9" height="11" fill="#e00" stroke="#000" stroke-width="0.6"/>
<rect x="1277" y="832" width="9" height="11" fill="#0a3" stroke="#000" stroke-width="0.6"/><rect x="1297" y="832" width="9" height="11" fill="#06c" stroke="#000" stroke-width="0.6"/>
<g id="darcg"></g>
<g class="b" font-size="13">
<text x="1092" y="909" textLength="437" lengthAdjust="spacing">DARC contains: programmatic decompositions of ARC tasks by humans</text>
<text x="1092" y="928" textLength="437" lengthAdjust="spacing">using ANPL, Python code for 227 ARC tasks, and fine-grained interaction</text>
<text x="1092" y="946">histories between users and a code-generating LLM.</text>
<text x="1092" y="968" fill="#111">References</text>
</g>
<text x="1092" y="985" font-size="7.5" fill="#111">[1] Samuel Acquaviva (2022). “Communicating Natural Programs to Humans and Machines.” <tspan fill="#6a8caf">NeurIPS 2022.</tspan></text>
</svg>
<script>
(function(){
var NS="http://www.w3.org/2000/svg";
function el(p,t,a){var e=document.createElementNS(NS,t);for(var k in a)e.setAttribute(k,a[k]);p.appendChild(e);return e;}
function G(id){return document.getElementById(id);}
var seed=7;function rnd(){seed=(seed*9301+49297)%233280;return seed/233280;}
function qr(g,x,y,s){var n=25,c=s/n;el(g,'rect',{x:x,y:y,width:s,height:s,fill:'#fff'});
 for(var i=0;i<n;i++)for(var j=0;j<n;j++){var f=(i<8&&j<8)||(i<8&&j>n-9)||(i>n-9&&j<8);if(!f&&rnd()<0.5)el(g,'rect',{x:x+i*c,y:y+j*c,width:c+0.05,height:c+0.05,fill:'#000'});}
 [[0,0],[n-7,0],[0,n-7]].forEach(function(p){el(g,'rect',{x:x+p[0]*c,y:y+p[1]*c,width:7*c,height:7*c,fill:'#000'});el(g,'rect',{x:x+(p[0]+1)*c,y:y+(p[1]+1)*c,width:5*c,height:5*c,fill:'#fff'});el(g,'rect',{x:x+(p[0]+2)*c,y:y+(p[1]+2)*c,width:3*c,height:3*c,fill:'#000'});});}
qr(G('qr1'),1073,126,79);qr(G('qr2'),1184,126,79);
var ng=G('neur');for(var k=0;k<60;k++){var a=(95+k*3.2)*Math.PI/180,r=28+rnd()*14;el(ng,'circle',{cx:1358+Math.cos(a)*r,cy:68-Math.sin(a)*r*1.05,r:1.2+rnd()*2.2,fill:['#6b3fa0','#8e5bb5','#a57cc4','#5a2d8c'][k%4]});}
function bars(g,x,y,w,h,hs,cols){el(g,'rect',{x:x,y:y,width:w,height:h,fill:'#111'});var n=hs.length,bw=w/(n*2);for(var i=0;i<n;i++){var bh=hs[i]*h;el(g,'rect',{x:x+bw*(2*i+0.5),y:y+h-bh,width:bw,height:bh,fill:'#999'});if(cols&&cols[i])el(g,'rect',{x:x+bw*(2*i+0.5),y:y+h-cols[i][1]*h,width:bw,height:cols[i][1]*h,fill:cols[i][0]});}}
function taskPair(g,x,y,w,h){bars(g,x,y,w,h,[0.2,0.9,0.6,1]);el(g,'polygon',{points:(x+w+1)+','+(y+h/2-3)+' '+(x+w+5)+','+(y+h/2)+' '+(x+w+1)+','+(y+h/2+3),fill:'#000'});bars(g,x+w+6,y,w,h,[0.2,0.9,0.6,1],[['#e00',0.15],0,0,['#17f',1]]);}
taskPair(G('mt1'),76,341,21,22);taskPair(G('mt2'),78,767,21,22);taskPair(G('mt3'),683,438,18,15);
bars(G('mo1'),455,340,30,32,[0.2,0.8,0.6,1],[['#0c0',0.15],['#17f',0.8],0,0]);
bars(G('mo2'),453,763,31,30,[0.2,0.8,0.6,1],[['#0c0',0.15],['#17f',0.8],0,0]);
bars(G('mo3'),453,885,31,31,[0.2,0.8,0.6,1],[['#e00',0.15],0,0,['#17f',1]]);
var dg=G('dg');var ys=[880,906,931];
ys.forEach(function(yy,r){bars(dg,74,yy,23,24,[0.15,0.8,0.6,1],r==2?[0,['#17f',0.1],0,0]:null);bars(dg,106,yy,23,24,[0.15,0.8,0.6,1],r==0?null:[r==2?['#0c0',0.15]:0,['#17f',0.1],0,0]);bars(dg,135,yy,23,24,[0.15,0.8,0.6,1],[['#e00',r?0.15:0.05],0,0,r?['#17f',1]:0]);
 el(dg,'polygon',{points:'98,'+(yy+9)+' 104,'+(yy+12)+' 98,'+(yy+15),fill:'#000'});});
el(dg,'line',{x1:159,y1:915,x2:169,y2:915,stroke:'#000','stroke-width':2,'marker-end':'url(#ah)'});
function py(id,h){var g=G(id);var cols=['#c00','#37c','#222','#222','#c00'];for(var i=0;i<h;i++){if(i%5==4)continue;el(g,'rect',{x:2,y:13+i*3.3,width:10+rnd()*45,height:1.3,fill:cols[i%5]});}}
py('py1',26);py('py2',24);py('py3',24);
function duck(id,s){var g=G(id);g.setAttribute('stroke','#000');g.setAttribute('fill','#fff');g.setAttribute('stroke-width','0.8');
 el(g,'ellipse',{cx:0,cy:3*s,rx:7*s,ry:9*s});el(g,'circle',{cx:-1.5*s,cy:-6*s,r:2.3*s});el(g,'circle',{cx:2*s,cy:-6*s,r:2.3*s});
 el(g,'line',{x1:-7*s,y1:3*s,x2:-11*s,y2:3*s});el(g,'line',{x1:7*s,y1:3*s,x2:11*s,y2:3*s});el(g,'line',{x1:-3*s,y1:12*s,x2:-3*s,y2:16*s});el(g,'line',{x1:3*s,y1:12*s,x2:3*s,y2:16*s});}
duck('duck1',1);duck('duck2',1);duck('duck3',1.1);
var ag=G('arc');var gx=[1361,1401,1441,1481];var pal=['#17f','#e33','#2c2','#fd0','#f80','#8df'];
gx.forEach(function(x,t){for(var r=0;r<3;r++){var y=231+r*17;for(var c=0;c<2;c++){var xx=x+c*17;if(r==2&&c==1){el(ag,'rect',{x:xx,y:y,width:14,height:15,fill:'#fff',stroke:'#333','stroke-width':0.5});continue;}
 el(ag,'rect',{x:xx,y:y,width:14,height:15,fill:'#111'});
 for(var k=0;k<6;k++){el(ag,'rect',{x:xx+1+rnd()*11,y:y+1+rnd()*12,width:t==2?6:2,height:t==2?5:2,fill:t==0?(c?'#17f':'#aaa'):pal[Math.floor(rnd()*6)]});}}}});
var dgg=G('darcg');
function cg(x,y,cols,rows,arr,cs){for(var r=0;r<rows;r++)for(var c=0;c<cols;c++){el(dgg,'rect',{x:x+c*cs,y:y+r*cs,width:cs,height:cs,fill:arr[(r*cols+c)%arr.length],stroke:'#333','stroke-width':0.3});}}
cg(1171,730,4,8,['#06c','#000','#06c','#000','#000','#06c','#000','#06c','#06c','#000','#06c','#000','#000','#06c','#06c','#000','#fc4','#fc4','#fc4','#fc4','#e00','#000','#e00','#e00','#000','#e00','#000','#e00','#e00','#e00','#e00','#000'],6.2);
cg(1338,760,4,4,['#e00','#000','#e00','#e00','#000','#e00','#000','#e00','#e00','#e00','#e00','#000','#e00','#000','#e00','#e00'],5.6);
cg(1388,760,4,4,['#06c','#000','#06c','#06c','#000','#06c','#000','#06c','#06c','#06c','#000','#06c','#06c','#000','#06c','#06c'],5.6);
cg(1186,845,4,4,['#0a3','#000','#0a3','#0a3','#000','#0a3','#000','#0a3','#0a3','#0a3','#0a3','#000','#0a3','#000','#0a3','#0a3'],5.6);
cg(1372,845,4,4,['#e00','#000','#e00','#e00','#000','#06c','#000','#e00','#e00','#e00','#e00','#000','#e00','#000','#06c','#e00'],5.6);
var ch=G('charts');
function panel(x0,y0,x1,y1){el(ch,'rect',{x:x0,y:y0,width:x1-x0,height:y1-y0,fill:'#ebebeb'});for(var i=1;i<6;i++){el(ch,'line',{x1:x0,x2:x1,y1:y0+(y1-y0)*i/6,y2:y0+(y1-y0)*i/6,stroke:'#fff','stroke-width':0.5});el(ch,'line',{y1:y0,y2:y1,x1:x0+(x1-x0)*i/6,x2:x0+(x1-x0)*i/6,stroke:'#fff','stroke-width':0.5});}}
function barsC(x0,y0,yb,sc,vals,errs){var cols=[['#555','#333'],['#f2c46b','#e3a21a'],['#a8d4f2','#4aa8e0'],['#7fcfa8','#16a06a']];vals.forEach(function(v,i){var x=x0+i*25;el(ch,'rect',{x:x,y:yb-v*sc,width:13,height:v*sc,fill:cols[i][0],stroke:cols[i][1],'stroke-width':0.6});var e=errs[i];el(ch,'line',{x1:x+6.5,x2:x+6.5,y1:yb-e[0]*sc,y2:yb-e[1]*sc,stroke:cols[i][1],'stroke-width':1.5});el(ch,'line',{x1:x+4,x2:x+9,y1:yb-e[0]*sc,y2:yb-e[0]*sc,stroke:cols[i][1],'stroke-width':1.5});el(ch,'line',{x1:x+4,x2:x+9,y1:yb-e[1]*sc,y2:yb-e[1]*sc,stroke:cols[i][1],'stroke-width':1.5});});}
function interp(p,x){for(var i=1;i<p.length;i++)if(x<=p[i][0]){var t=(x-p[i-1][0])/(p[i][0]-p[i-1][0]);return p[i-1][1]+t*(p[i][1]-p[i-1][1]);}return p[p.length-1][1];}
function line(xs,ys,pts,col,eb){var d=pts.map(function(p,i){return (i?'L':'M')+xs(p[0])+','+ys(p[1]);}).join(' ');el(ch,'path',{d:d,fill:'none',stroke:col,'stroke-width':1.2});if(eb)eb.forEach(function(x){var v=interp(pts,x);el(ch,'line',{x1:xs(x),x2:xs(x),y1:ys(v-0.05),y2:ys(v+0.05),stroke:'#000','stroke-width':0.6});});}
panel(1105,377,1210,484);barsC(1114,378,478,121,[0.75,0.58,0.24,0.16],[[0.72,0.79],[0.54,0.63],[0.2,0.28],[0.13,0.2]]);
panel(1245,377,1375,484);var xs=function(v){return 1250+v*0.04},ys=function(v){return 478-v*121};
var eb=[];for(var i=300;i<=3000;i+=200)eb.push(i);
line(xs,ys,[[0,0],[200,0.35],[500,0.5],[1000,0.62],[1500,0.68],[2000,0.71],[3000,0.73]],'#5a9bd0',eb);
line(xs,ys,[[0,0],[200,0.3],[500,0.42],[1000,0.52],[1500,0.56],[2000,0.59],[3000,0.59]],'#e0905a',eb);
el(ch,'line',{x1:1336,x2:1345,y1:468,y2:468,stroke:'#5a9bd0'});el(ch,'line',{x1:1336,x2:1345,y1:473,y2:473,stroke:'#e0905a'});
panel(1400,377,1530,484);var xc=function(v){return 1405+v*2.67};
var eb2=[3,5,10,15,20,25,30,35,40,45];
line(xc,ys,[[0,0],[3,0.3],[5,0.55],[10,0.68],[15,0.72],[20,0.73],[45,0.73]],'#a8dcc8');
line(xc,ys,[[0,0],[3,0.4],[5,0.6],[10,0.72],[15,0.74],[45,0.74]],'#5a9bd0',eb2);
line(xc,ys,[[0,0],[3,0.3],[5,0.48],[10,0.56],[15,0.58],[45,0.58]],'#e0905a',eb2);
el(ch,'line',{x1:1488,x2:1497,y1:465,y2:465,stroke:'#5a9bd0'});el(ch,'line',{x1:1488,x2:1497,y1:470,y2:470,stroke:'#e0905a'});el(ch,'line',{x1:1488,x2:1497,y1:475,y2:475,stroke:'#a8dcc8'});
panel(1105,506,1210,610);barsC(1114,506,605,98,[0.88,0.37,0.38,0.12],[[0.8,0.95],[0.22,0.53],[0.25,0.55],[0.05,0.2]]);
panel(1245,506,1375,610);var ys2=function(v){return 605-v*98};
line(xs,ys2,[[0,0],[150,0.5],[500,0.65],[800,0.82],[1500,0.82],[2000,0.85],[3000,0.9]],'#5a9bd0',eb);
line(xs,ys2,[[0,0],[200,0.3],[400,0.35],[3000,0.37]],'#e0905a',eb);
el(ch,'line',{x1:1336,x2:1345,y1:596,y2:596,stroke:'#5a9bd0'});el(ch,'line',{x1:1336,x2:1345,y1:601,y2:601,stroke:'#e0905a'});
panel(1400,506,1530,610);
line(xc,ys2,[[0,0],[5,0.72],[10,0.8],[20,0.9],[45,0.9]],'#a8dcc8');
line(xc,ys2,[[0,0],[3,0.7],[8,0.82],[15,0.87],[45,0.9]],'#5a9bd0',eb2);
line(xc,ys2,[[0,0],[5,0.37],[45,0.37]],'#e0905a',eb2);
el(ch,'line',{x1:1488,x2:1497,y1:594,y2:594,stroke:'#5a9bd0'});el(ch,'line',{x1:1488,x2:1497,y1:599,y2:599,stroke:'#e0905a'});el(ch,'line',{x1:1488,x2:1497,y1:604,y2:604,stroke:'#a8dcc8'});
})();
</script>
</body></html>
